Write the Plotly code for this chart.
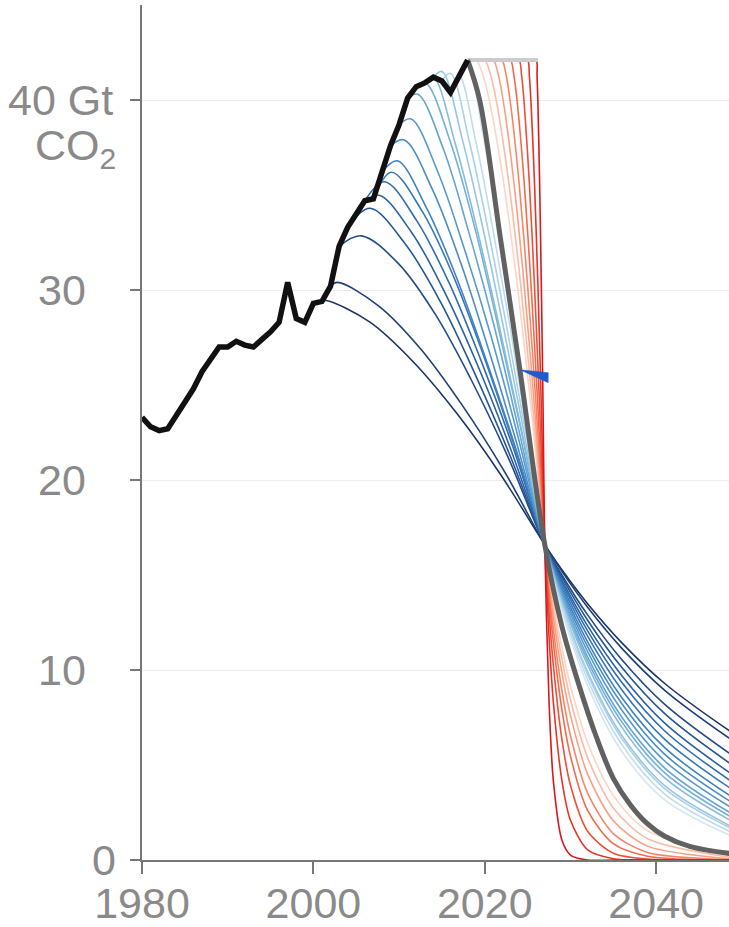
import plotly.graph_objects as go

# ---------------- data ----------------
hist_years = list(range(1980, 2019))
hist_values = [23.3, 22.8, 22.6, 22.7, 23.4, 24.1, 24.8, 25.7, 26.4, 27.0,
               27.0, 27.3, 27.1, 27.0, 27.4, 27.8, 28.3, 30.4, 28.5, 28.3,
               29.3, 29.4, 30.2, 32.3, 33.3, 34.0, 34.7, 34.8, 36.2, 37.6,
               38.7, 40.1, 40.7, 40.9, 41.2, 41.0, 40.4, 41.3, 42.1]

# blue mitigation curves, starting 2001 ... 2017
blue_years = [
    [2001, 2001.5, 2006.6, 2011.7, 2016.8, 2021.9, 2027, 2029, 2032, 2036, 2041, 2049],
    [2002, 2002.8, 2007.6, 2012.5, 2017.3, 2022.2, 2027, 2029, 2032, 2036, 2041, 2049],
    [2003, 2005.6, 2009.9, 2014.2, 2018.4, 2022.7, 2027, 2029, 2032, 2036, 2041, 2049],
    [2004, 2006.6, 2010.7, 2014.8, 2018.8, 2022.9, 2027, 2029, 2032, 2036, 2041, 2049],
    [2005, 2007.5, 2011.4, 2015.3, 2019.2, 2023.1, 2027, 2029, 2032, 2036, 2041, 2049],
    [2006, 2008.3, 2012.0, 2015.8, 2019.5, 2023.3, 2027, 2029, 2032, 2036, 2041, 2049],
    [2007, 2009.1, 2012.7, 2016.3, 2019.8, 2023.4, 2027, 2029, 2032, 2036, 2041, 2049],
    [2008, 2009.8, 2013.2, 2016.7, 2020.1, 2023.6, 2027, 2029, 2032, 2036, 2041, 2049],
    [2009, 2010.6, 2013.9, 2017.2, 2020.4, 2023.7, 2027, 2029, 2032, 2036, 2041, 2049],
    [2010, 2011.4, 2014.5, 2017.6, 2020.8, 2023.9, 2027, 2029, 2032, 2036, 2041, 2049],
    [2011, 2012.2, 2015.2, 2018.1, 2021.1, 2024.0, 2027, 2029, 2032, 2036, 2041, 2049],
    [2012, 2013.1, 2015.9, 2018.7, 2021.4, 2024.2, 2027, 2029, 2032, 2036, 2041, 2049],
    [2013, 2014.0, 2016.6, 2019.2, 2021.8, 2024.4, 2027, 2029, 2032, 2036, 2041, 2049],
    [2014, 2015.0, 2017.4, 2019.8, 2022.2, 2024.6, 2027, 2029, 2032, 2036, 2041, 2049],
    [2015, 2016.0, 2018.2, 2020.4, 2022.6, 2024.8, 2027, 2029, 2032, 2036, 2041, 2049],
    [2016, 2017.0, 2019.0, 2021.0, 2023.0, 2025.0, 2027, 2029, 2032, 2036, 2041, 2049],
    [2017, 2018.0, 2019.8, 2021.6, 2023.4, 2025.2, 2027, 2029, 2032, 2036, 2041, 2049],
]
blue_values = [
    [29.4, 29.45, 28.31, 26.20, 23.47, 20.25, 16.6, 15.28, 13.49, 11.43, 9.29, 6.66],
    [30.2, 30.4, 29.17, 26.91, 23.98, 20.52, 16.6, 15.19, 13.30, 11.14, 8.93, 6.26],
    [32.3, 32.85, 31.40, 28.74, 25.29, 21.22, 16.6, 15.00, 12.90, 10.54, 8.19, 5.47],
    [33.3, 34.3, 32.44, 29.40, 25.64, 21.34, 16.6, 14.87, 12.62, 10.13, 7.70, 4.96],
    [34.0, 35.0, 33.07, 29.90, 26.00, 21.53, 16.6, 14.73, 12.32, 9.70, 7.20, 4.46],
    [34.7, 35.7, 33.69, 30.41, 26.36, 21.72, 16.6, 14.61, 12.06, 9.34, 6.79, 4.07],
    [34.8, 36.2, 34.14, 30.77, 26.62, 21.85, 16.6, 14.47, 11.78, 8.95, 6.35, 3.67],
    [36.2, 36.8, 34.32, 30.66, 26.40, 21.69, 16.6, 14.32, 11.48, 8.54, 5.91, 3.27],
    [37.6, 37.9, 35.28, 31.42, 26.93, 21.97, 16.6, 14.20, 11.23, 8.22, 5.56, 2.98],
    [38.7, 39.0, 36.24, 32.19, 27.46, 22.24, 16.6, 14.07, 10.97, 7.88, 5.21, 2.69],
    [40.1, 40.3, 37.38, 33.10, 28.09, 22.57, 16.6, 13.92, 10.69, 7.51, 4.84, 2.39],
    [40.7, 40.9, 37.91, 33.51, 28.39, 22.72, 16.6, 13.81, 10.48, 7.26, 4.59, 2.20],
    [40.9, 41.2, 37.63, 33.01, 27.87, 22.38, 16.6, 13.70, 10.26, 6.98, 4.32, 2.00],
    [41.2, 41.5, 37.89, 33.21, 28.00, 22.45, 16.6, 13.50, 9.90, 6.55, 3.91, 1.71],
    [41.0, 41.4, 37.80, 33.14, 27.96, 22.43, 16.6, 13.43, 9.77, 6.39, 3.76, 1.61],
    [40.4, 41.3, 37.72, 33.07, 27.91, 22.40, 16.6, 13.27, 9.49, 6.07, 3.47, 1.42],
    [41.3, 41.8, 38.15, 33.41, 28.14, 22.52, 16.6, 13.10, 9.18, 5.71, 3.16, 1.22],
]
blue_colors = ["#1b3567", "#1e4079", "#224b8a", "#255697", "#2a62a3", "#306daf",
               "#3778b8", "#4083c0", "#4a8ec7", "#569acd", "#64a5d3", "#74b0d8",
               "#85bbdd", "#98c6e2", "#abd1e8", "#bfdcee", "#d3e6f3"]

# red curves: emissions held flat, then cut from 2019 ... 2026
red_years = [
    [2018, 2019, 2019.8, 2020.6, 2022.2, 2023.8, 2025.4, 2027, 2027.5, 2028, 2029, 2030, 2032, 2035, 2039, 2049],
    [2019, 2020, 2020.7, 2021.4, 2022.8, 2024.2, 2025.6, 2027, 2027.5, 2028, 2029, 2030, 2032, 2035, 2039, 2049],
    [2020, 2021, 2021.6, 2022.2, 2023.4, 2024.6, 2025.8, 2027, 2027.5, 2028, 2029, 2030, 2032, 2035, 2039, 2049],
    [2021, 2022, 2022.5, 2023.0, 2024.0, 2025.0, 2026.0, 2027, 2027.5, 2028, 2029, 2030, 2032, 2035, 2039, 2049],
    [2022, 2023, 2023.4, 2023.8, 2024.6, 2025.4, 2026.2, 2027, 2027.5, 2028, 2029, 2030, 2032, 2035, 2039, 2049],
    [2023, 2024, 2024.3, 2024.6, 2025.2, 2025.8, 2026.4, 2027, 2027.5, 2028, 2029, 2030, 2032, 2035, 2039, 2049],
    [2024, 2025, 2025.2, 2025.4, 2025.8, 2026.2, 2026.6, 2027, 2027.5, 2028, 2029, 2030, 2032, 2035, 2039, 2049],
    [2025, 2026, 2026.1, 2026.2, 2026.4, 2026.6, 2026.8, 2027, 2027.5, 2028, 2029, 2030, 2032, 2035, 2039, 2049],
]
red_values = [
    [42.1, 42.1, 41.29, 39.83, 35.65, 30.24, 23.84, 16.6, 15.04, 13.62, 11.17, 9.17, 6.17, 3.40, 1.54, 0.21],
    [42.1, 42.1, 41.29, 39.83, 35.65, 30.24, 23.84, 16.6, 14.83, 13.26, 10.58, 8.45, 5.39, 2.74, 1.12, 0.12],
    [42.1, 42.1, 41.29, 39.83, 35.65, 30.24, 23.84, 16.6, 14.58, 12.80, 9.87, 7.61, 4.52, 2.07, 0.73, 0.05],
    [42.1, 42.1, 41.29, 39.83, 35.65, 30.24, 23.84, 16.6, 14.22, 12.17, 8.93, 6.55, 3.52, 1.39, 0.40, 0.02],
    [42.1, 42.1, 41.29, 39.83, 35.65, 30.24, 23.84, 16.6, 13.80, 11.47, 7.92, 5.47, 2.61, 0.86, 0.20, 0.0],
    [42.1, 42.1, 41.29, 39.83, 35.65, 30.24, 23.84, 16.6, 13.06, 10.27, 6.36, 3.93, 1.51, 0.36, 0.05, 0.0],
    [42.1, 42.1, 41.29, 39.83, 35.65, 30.24, 23.84, 16.6, 11.76, 8.33, 4.18, 2.09, 0.53, 0.07, 0.0, 0.0],
    [42.1, 42.1, 41.29, 39.83, 35.65, 30.24, 23.84, 16.6, 8.33, 4.18, 1.05, 0.26, 0.0, 0.0, 0.0, 0.0],
]
red_colors = ["#fcd5c4", "#fbbba4", "#f9a084", "#f78566",
              "#f36a4c", "#ee4f37", "#e63427", "#d7191f"]

# thick grey: cut starting 2018
grey_years = [2018, 2019.4, 2021.8, 2024.1, 2027, 2029, 2031, 2033, 2035, 2037, 2039, 2041, 2044, 2049]
grey_values = [42.1, 40.0, 32.8, 25.8, 16.6, 12.3, 9.2, 6.5, 4.3, 2.9, 1.9, 1.25, 0.7, 0.32]

# constant-emissions line
flat_years = [2018, 2026.2]
flat_values = [42.1, 42.1]

# small blue pointer
wedge_x = [2024.1, 2027.4, 2027.4, 2024.1]
wedge_y = [25.8, 25.65, 25.12, 25.8]

x_ticks = [1980, 2000, 2020, 2040]
y_ticks = [0, 10, 20, 30, 40]
y_tick_text = ["0", "10", "20", "30", "40 Gt"]
y_label_shift = [-24, -54, -54, -54, -27]   # horizontal placement of each y label
unit_text = "CO<sub>2</sub>"

FONT = "Liberation Sans, Arial, Helvetica, sans-serif"
GREY_TXT = "#8a8a8a"

# ---------------- figure ----------------
fig = go.Figure()

for xs, ys, c in zip(blue_years, blue_values, blue_colors):
    fig.add_trace(go.Scatter(x=xs, y=ys, mode="lines",
                             line=dict(color=c, width=1.6, shape="spline", smoothing=1.0),
                             hoverinfo="skip"))

for xs, ys, c in zip(red_years, red_values, red_colors):
    fig.add_trace(go.Scatter(x=xs, y=ys, mode="lines",
                             line=dict(color=c, width=1.6, shape="spline", smoothing=0.8),
                             hoverinfo="skip"))

fig.add_trace(go.Scatter(x=flat_years, y=flat_values, mode="lines",
                         line=dict(color="#cccccc", width=4), hoverinfo="skip"))

fig.add_trace(go.Scatter(x=grey_years, y=grey_values, mode="lines",
                         line=dict(color="#616161", width=5, shape="spline", smoothing=1.0),
                         hoverinfo="skip"))

fig.add_trace(go.Scatter(x=hist_years, y=hist_values, mode="lines",
                         line=dict(color="#111111", width=5.5), hoverinfo="skip"))

fig.add_trace(go.Scatter(x=wedge_x, y=wedge_y, mode="lines", fill="toself",
                         fillcolor="#1c5bd0", line=dict(color="#1c5bd0", width=0.5),
                         hoverinfo="skip"))

# y tick labels as positioned text
for v, t, sh in zip(y_ticks, y_tick_text, y_label_shift):
    fig.add_annotation(text=t, xref="paper", x=0, xanchor="right", xshift=sh,
                       yref="y", y=v, yanchor="middle", showarrow=False,
                       font=dict(size=43, color=GREY_TXT, family=FONT))
fig.add_annotation(text=unit_text, xref="paper", x=0, xanchor="right", xshift=-24,
                   yref="y", y=40, yanchor="middle", yshift=-48, showarrow=False,
                   font=dict(size=43, color=GREY_TXT, family=FONT))

fig.update_layout(
    width=729, height=927,
    margin=dict(l=142, r=0, t=5, b=67, autoexpand=False),
    plot_bgcolor="white", paper_bgcolor="white",
    showlegend=False,
    font=dict(family=FONT, color=GREY_TXT, size=43),
)
fig.update_xaxes(range=[1980, 2048.5], tickvals=x_ticks, ticks="outside", ticklen=12,
                 tickwidth=1.5, tickcolor="#777777", showline=True, linecolor="#777777",
                 linewidth=1.5, showgrid=False, zeroline=False, layer="below traces",
                 automargin=False, ticklabelstandoff=-7,
                 tickfont=dict(size=43, color=GREY_TXT, family=FONT))
fig.update_yaxes(range=[0, 45], tickvals=y_ticks, showticklabels=False, ticks="outside",
                 ticklen=10, tickwidth=1.5, tickcolor="#777777", showline=True,
                 linecolor="#777777", linewidth=1.5, showgrid=True, gridcolor="#ececec",
                 gridwidth=1, zeroline=False, layer="below traces", automargin=False)

fig.write_html("out.html", config={"displayModeBar": False},
               post_script="document.body.style.margin='0px';document.body.style.overflow='hidden';")
